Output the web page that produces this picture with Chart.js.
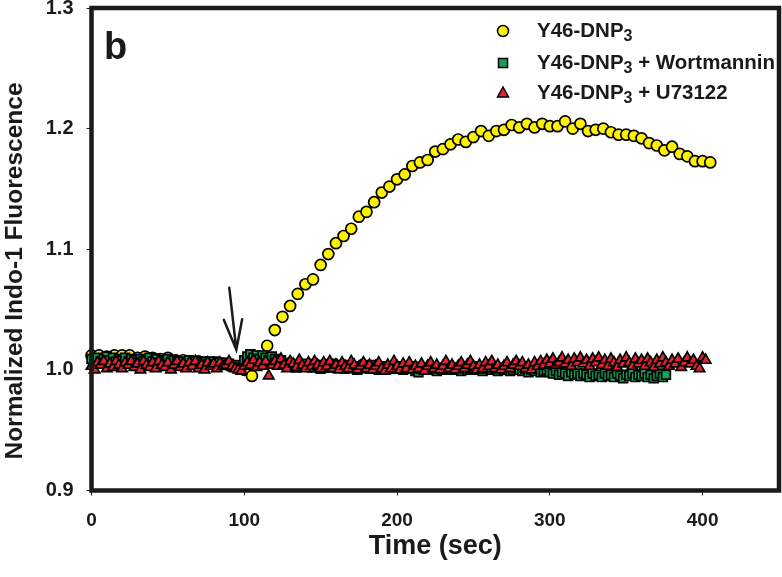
<!DOCTYPE html>
<html>
<head>
<meta charset="utf-8">
<script src="https://cdn.jsdelivr.net/npm/chart.js@4.4.1/dist/chart.umd.min.js"></script>
<style>
  html, body { margin: 0; padding: 0; background: #fff; }
  canvas { display: block; }
</style>
</head>
<body>
<canvas id="chart" width="782" height="577"></canvas>
<script>
// ── Data ─────────────────────────────────────────────────────
const FONT = "'Liberation Sans', Arial, sans-serif";

// Y46-DNP3 (sampled every 5 s from t = 0)
const yellowStep = 5;
const yellowVals = [
  1.012, 1.012, 1.011, 1.012, 1.012, 1.012, 1.010, 1.011, 1.010, 1.009,
  1.010, 1.008, 1.008, 1.007, 1.007, 1.006, 1.006, 1.005, 1.004, 1.003,
  1.000, 0.995, 1.006, 1.020, 1.033, 1.044, 1.053, 1.063, 1.071, 1.075,
  1.087, 1.096, 1.105, 1.111, 1.117, 1.127, 1.131, 1.139, 1.147, 1.152,
  1.158, 1.162, 1.169, 1.172, 1.174, 1.181, 1.183, 1.187, 1.191, 1.189,
  1.193, 1.198, 1.194, 1.198, 1.199, 1.203, 1.201, 1.204, 1.201, 1.204,
  1.202, 1.202, 1.206, 1.200, 1.204, 1.198, 1.199, 1.200, 1.197, 1.195,
  1.195, 1.194, 1.192, 1.188, 1.186, 1.182, 1.185, 1.179, 1.177, 1.173,
  1.173, 1.172,
];

// Y46-DNP3 + Wortmannin (every 2 s)
const greenStep = 2;
const greenVals = [
  1.009, 1.008, 1.010, 1.007, 1.009, 1.011, 1.008, 1.010, 1.007, 1.009,
  1.008, 1.010, 1.007, 1.009, 1.008, 1.006, 1.009, 1.007, 1.008, 1.010,
  1.007, 1.009, 1.006, 1.008, 1.007, 1.009, 1.006, 1.008, 1.007, 1.005,
  1.007, 1.006, 1.008, 1.005, 1.007, 1.006, 1.004, 1.007, 1.005, 1.006,
  1.007, 1.005, 1.006, 1.004, 1.006, 1.005, 1.003, 1.004, 1.002, 1.001,
  1.008, 1.011, 1.013, 1.010, 1.012, 1.009, 1.012, 1.010, 1.008, 1.011,
  1.009, 1.007, 1.008, 1.006, 1.004, 1.005, 1.003, 1.002, 1.004, 1.003,
  1.005, 1.003, 1.002, 1.004, 1.003, 1.001, 1.004, 1.002, 1.003, 1.005,
  1.002, 1.004, 1.003, 1.001, 1.004, 1.002, 1.003, 1.000, 1.002, 1.004,
  1.003, 1.001, 1.002, 1.004, 1.000, 1.003, 1.002, 1.001, 1.003, 1.002,
  1.001, 1.003, 1.000, 1.002, 1.001, 1.003, 0.999, 0.998, 1.001, 1.002,
  1.000, 1.002, 1.001, 0.999, 1.002, 1.000, 1.001, 1.003, 1.000, 1.002,
  1.001, 0.999, 1.002, 1.000, 1.001, 1.003, 1.000, 1.002, 0.999, 1.001,
  1.002, 1.000, 1.001, 0.999, 1.002, 1.000, 1.001, 0.999, 1.000, 1.002,
  1.000, 0.999, 1.001, 0.998, 1.000, 0.999, 1.001, 0.998, 0.999, 1.000,
  0.998, 0.997, 0.999, 0.996, 0.998, 0.997, 0.995, 0.998, 0.996, 0.997,
  0.995, 0.997, 0.996, 0.994, 0.997, 0.995, 0.996, 0.994, 0.997, 0.995,
  0.996, 0.994, 0.997, 0.995, 0.993, 0.996, 0.995, 0.997, 0.994, 0.996,
  0.995, 0.997, 0.994, 0.996, 0.993, 0.995, 0.997, 0.994, 0.996,
];

// Y46-DNP3 + U73122 (every 2 s)
const redStep = 2;
const redVals = [
  1.003, 1.000, 1.006, 1.004, 1.007, 1.001, 1.005, 1.002, 1.007, 1.004,
  1.001, 1.006, 1.004, 1.007, 1.002, 1.005, 1.000, 1.007, 1.004, 1.002,
  1.006, 1.001, 1.007, 1.004, 1.002, 1.006, 1.000, 1.004, 1.007, 1.002,
  1.005, 1.001, 1.006, 1.003, 1.007, 1.001, 1.004, 1.000, 1.006, 1.003,
  1.005, 1.001, 1.006, 1.003, 1.004, 1.007, 1.003, 1.001, 1.000, 0.999,
  1.003, 1.006, 1.004, 1.008, 1.002, 1.006, 1.003, 1.007, 0.995, 1.004,
  1.007, 1.003, 1.009, 1.004, 1.001, 1.007, 1.005, 1.002, 1.008, 1.004,
  1.001, 1.006, 1.003, 1.007, 1.004, 1.001, 1.006, 1.003, 1.007, 1.001,
  1.004, 1.000, 1.006, 1.003, 1.001, 1.007, 1.004, 1.000, 1.003, 1.006,
  1.001, 1.004, 1.000, 1.003, 1.006, 1.001, 0.999, 1.004, 1.001, 1.007,
  1.003, 1.000, 1.005, 1.001, 1.006, 1.000, 1.003, 1.001, 1.005, 0.999,
  1.003, 1.006, 1.001, 1.004, 1.000, 1.003, 1.007, 1.001, 1.004, 1.000,
  1.003, 1.006, 1.001, 1.004, 1.007, 1.003, 1.000, 1.004, 1.001, 1.006,
  1.003, 1.007, 1.001, 1.004, 1.000, 1.003, 1.006, 1.001, 1.004, 1.007,
  1.003, 1.006, 1.001, 1.004, 1.000, 1.006, 1.003, 1.007, 1.004, 1.008,
  1.005, 1.009, 1.004, 1.006, 1.010, 1.005, 1.008, 1.003, 1.009, 1.006,
  1.010, 1.005, 1.008, 1.003, 1.009, 1.006, 1.010, 1.004, 1.008, 1.003,
  1.009, 1.006, 1.002, 1.008, 1.005, 1.010, 1.006, 1.003, 1.009, 1.005,
  1.008, 1.003, 1.009, 1.006, 1.002, 1.008, 1.005, 1.010, 1.006, 1.003,
  1.008, 1.005, 1.009, 1.002, 1.006, 1.010, 1.005, 1.008, 1.003, 1.001,
  1.010, 1.008,
];

const xTicks = [0, 100, 200, 300, 400];
const yTicks = [0.9, 1.0, 1.1, 1.2, 1.3];

// Arrow marking the stimulus (data coords): shaft top, tip, head left, head right
const arrowX = [90.2, 94.8, 86.6, 98.6];
const arrowY = [1.068, 1.0167, 1.0415, 1.042];

const seriesNames = ['Y46-DNP', 'Y46-DNP', 'Y46-DNP'];
const seriesSuffix = ['', ' + Wortmannin', ' + U73122'];

const YELLOW = '#fff200';
const GREEN  = '#14a05a';
const RED    = '#e3232c';

const toPoints = (vals, step) => vals.map((v, i) => ({ x: i * step, y: v }));

// ── Custom drawing: frame, arrow, panel letter, legend, y title ──
function drawMarker(ctx, style, x, y, fill) {
  ctx.save();
  ctx.fillStyle = fill;
  ctx.strokeStyle = '#000';
  ctx.lineWidth = 1.5;
  ctx.beginPath();
  if (style === 'circle') {
    ctx.arc(x, y, 5.5, 0, Math.PI * 2);
  } else if (style === 'rect') {
    ctx.rect(x - 4.5, y - 4.5, 9, 9);
  } else {
    ctx.moveTo(x, y - 6);
    ctx.lineTo(x + 5.5, y + 4);
    ctx.lineTo(x - 5.5, y + 4);
    ctx.closePath();
  }
  ctx.fill();
  ctx.stroke();
  ctx.restore();
}

const decorPlugin = {
  id: 'decor',
  afterDraw(chart) {
    const { ctx, chartArea: a, scales } = chart;
    const sx = scales.x, sy = scales.y;

    // heavy box frame
    ctx.save();
    ctx.strokeStyle = '#1a1a1a';
    ctx.lineWidth = 4.5;
    ctx.strokeRect(a.left, a.top, a.right - a.left, a.bottom - a.top);

    // arrow
    const px = arrowX.map(v => sx.getPixelForValue(v));
    const py = arrowY.map(v => sy.getPixelForValue(v));
    ctx.lineWidth = 2.5;
    ctx.lineCap = 'round';
    ctx.beginPath();
    ctx.moveTo(px[0], py[0]); ctx.lineTo(px[1], py[1]);
    ctx.moveTo(px[2], py[2]); ctx.lineTo(px[1], py[1]); ctx.lineTo(px[3], py[3]);
    ctx.stroke();

    // panel letter
    ctx.fillStyle = '#1a1a1a';
    ctx.font = `bold 38px ${FONT}`;
    ctx.textBaseline = 'alphabetic';
    ctx.textAlign = 'left';
    ctx.fillText('b', 104, 59);

    // legend
    const styles = ['circle', 'rect', 'triangle'];
    const fills = [YELLOW, GREEN, RED];
    const rows = [31, 63, 93];
    rows.forEach((y, i) => {
      drawMarker(ctx, styles[i], 503, y, fills[i]);
      let x = 537;
      ctx.font = `bold 20.5px ${FONT}`;
      ctx.textBaseline = 'middle';
      ctx.fillText(seriesNames[i], x, y);
      x += ctx.measureText(seriesNames[i]).width;
      ctx.font = `bold 16px ${FONT}`;
      ctx.fillText('3', x, y + 6);
      x += ctx.measureText('3').width;
      ctx.font = `bold 20.5px ${FONT}`;
      ctx.fillText(seriesSuffix[i], x, y);
    });

    // y axis title
    ctx.translate(15, 271);
    ctx.rotate(-Math.PI / 2);
    ctx.font = `bold 24.5px ${FONT}`;
    ctx.textAlign = 'center';
    ctx.textBaseline = 'middle';
    ctx.fillText('Normalized Indo-1 Fluorescence', 0, 0);
    ctx.restore();
  },
};

// ── Chart ────────────────────────────────────────────────────
const ds = (label, vals, step, style, color, radius, order) => ({
  label,
  data: toPoints(vals, step),
  pointStyle: style,
  pointRadius: radius,
  pointBackgroundColor: color,
  pointBorderColor: '#000',
  pointBorderWidth: 1.7,
  showLine: false,
  clip: false,
  order,
});

new Chart(document.getElementById('chart'), {
  type: 'scatter',
  data: {
    datasets: [
      ds('Y46-DNP3', yellowVals, yellowStep, 'circle', YELLOW, 5.5, 3),
      ds('Y46-DNP3 + Wortmannin', greenVals, greenStep, 'rect', GREEN, 6.2, 2),
      ds('Y46-DNP3 + U73122', redVals, redStep, 'triangle', RED, 6, 1),
    ],
  },
  options: {
    responsive: false,
    devicePixelRatio: 1,
    animation: false,
    layout: { autoPadding: false, padding: { top: 8, right: 3, left: 0, bottom: 0 } },
    plugins: { legend: { display: false }, tooltip: { enabled: false } },
    scales: {
      x: {
        type: 'linear',
        min: 0,
        max: 450,
        border: { display: false },
        grid: { drawOnChartArea: false, drawTicks: true, tickLength: 5, color: '#222', lineWidth: 1 },
        ticks: { color: '#1a1a1a', font: { family: FONT, size: 19, weight: 'bold' }, padding: 14, maxRotation: 0 },
        title: {
          display: true,
          text: 'Time (sec)',
          color: '#1a1a1a',
          font: { family: FONT, size: 27, weight: 'bold' },
          padding: { top: 8, bottom: 14 },
        },
        afterBuildTicks: s => { s.ticks = xTicks.map(v => ({ value: v })); },
        afterFit: s => { s.height = 86.5; s.paddingLeft = 0; s.paddingRight = 0; },
      },
      y: {
        type: 'linear',
        min: 0.9,
        max: 1.3,
        border: { display: false },
        grid: { drawOnChartArea: false, drawTicks: true, tickLength: 5, color: '#222', lineWidth: 1 },
        ticks: {
          color: '#1a1a1a',
          font: { family: FONT, size: 20, weight: 'bold' },
          padding: 13,
          callback: v => v.toFixed(1),
        },
        afterBuildTicks: s => { s.ticks = yTicks.map(v => ({ value: v })); },
        afterFit: s => { s.width = 91.5; s.paddingTop = 0; s.paddingBottom = 0; },
      },
    },
  },
  plugins: [decorPlugin],
});
</script>
</body>
</html>
